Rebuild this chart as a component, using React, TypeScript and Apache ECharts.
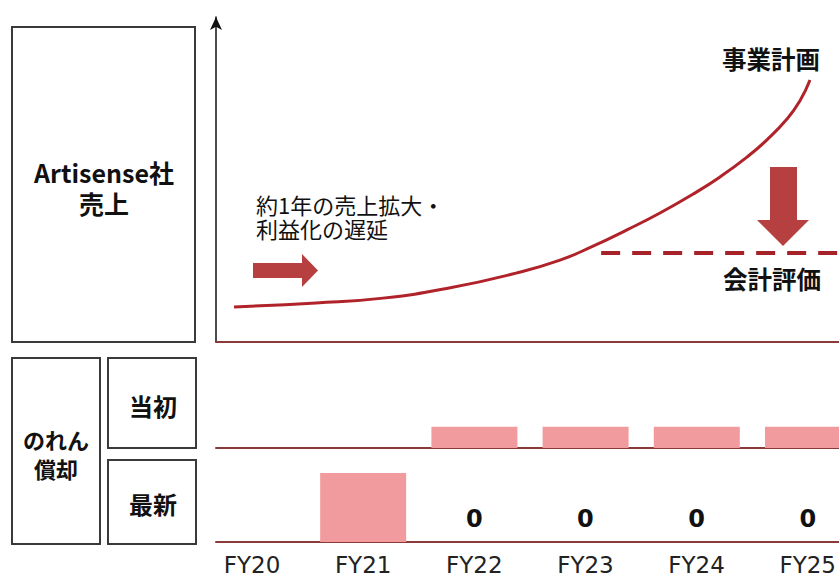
import React, { useEffect, useRef } from "react";
import * as echarts from "echarts";

const categories = ["FY20", "FY21", "FY22", "FY23", "FY24", "FY25"];
// Business-plan revenue curve (x = fiscal-year position, y = relative revenue)
const planCurveX = [-0.162, 0.576, 1.178, 1.772, 2.374, 2.77, 3.067, 3.372, 3.669, 3.966, 4.209, 4.451, 4.631, 4.811, 4.928, 5.018];
const planCurveY = [10.8, 12.0, 13.5, 16.6, 21.2, 25.2, 29.5, 34.5, 39.7, 45.5, 50.8, 56.9, 62.2, 68.6, 74.2, 80.6];
// Accounting valuation level (dashed)
const valuationX = [3.14, 5.4];
const valuationLevel = 27.4;
// Goodwill amortization
const initialAmort = [null, null, 30, 30, 30, 30];
const latestAmort = [null, 100, 0, 0, 0, 0];

const X_MIN = -0.324;
const X_MAX = 5.279;

export default function App() {
  const ref = useRef<HTMLDivElement>(null);
  useEffect(() => {
    if (!ref.current) return;
    const chart = echarts.init(ref.current, undefined, { renderer: "svg" });
    const jp = "'Noto Sans CJK JP', 'Noto Sans', sans-serif";
    const red = "#B0232A";
    const lineRed = "#8B3A3A";
    const pink = "#F29B9F";
    const arrow = "#B5403F";

    const xAxisBase = (gridIndex: number, showLabels: boolean) => ({
      type: "value",
      gridIndex,
      min: X_MIN,
      max: X_MAX,
      axisLine: { show: true, onZero: false, lineStyle: { color: lineRed, width: 2 } },
      axisTick: { show: false },
      splitLine: { show: false },
      axisLabel: showLabels
        ? {
            show: true,
            customValues: categories.map((_, i) => i),
            formatter: (v: number) => categories[Math.round(v)] ?? "",
            color: "#222",
            fontFamily: "'DejaVu Sans', Verdana, sans-serif",
            fontSize: 23,
            margin: 11,
          }
        : { show: false },
    });

    const boxes = [
      { x: 12, y: 27, w: 183, h: 315 },
      { x: 12, y: 358, w: 88, h: 186 },
      { x: 108, y: 358, w: 88, h: 90 },
      { x: 108, y: 460, w: 88, h: 84 },
    ];

    const label = (text: string, x: number, y: number, size: number, bold = true, align = "center") => ({
      type: "text",
      x,
      y,
      style: {
        text,
        fill: "#111",
        font: `${bold ? "bold " : ""}${size}px ${jp}`,
        align,
        verticalAlign: "middle",
        lineHeight: size,
      },
    });

    chart.setOption({
      animation: false,
      backgroundColor: "#fff",
      grid: [
        { left: 216, right: 0, top: 17, bottom: 234 },
        { left: 216, right: 0, top: 377, bottom: 128 },
        { left: 216, right: 0, top: 473, bottom: 32 },
      ],
      xAxis: [xAxisBase(0, false), xAxisBase(1, false), xAxisBase(2, true)],
      yAxis: [
        {
          type: "value",
          gridIndex: 0,
          min: 0,
          max: 100,
          axisLine: {
            show: true,
            onZero: false,
            symbol: ["none", "arrow"],
            symbolSize: [9, 13],
            lineStyle: { color: "#111", width: 1.5 },
          },
          axisTick: { show: false },
          axisLabel: { show: false },
          splitLine: { show: false },
        },
        { type: "value", gridIndex: 1, min: 0, max: 100, show: false },
        { type: "value", gridIndex: 2, min: 0, max: 100, show: false },
      ],
      series: [
        {
          type: "line",
          xAxisIndex: 0,
          yAxisIndex: 0,
          smooth: 0.5,
          symbol: "none",
          lineStyle: { color: red, width: 3 },
          data: planCurveX.map((x, i) => [x, planCurveY[i]]),
        },
        {
          type: "line",
          xAxisIndex: 0,
          yAxisIndex: 0,
          symbol: "none",
          lineStyle: { color: "#A52228", width: 4, type: [19, 12] },
          data: valuationX.map((x) => [x, valuationLevel]),
        },
        {
          type: "bar",
          xAxisIndex: 1,
          yAxisIndex: 1,
          barWidth: 86,
          itemStyle: { color: pink },
          data: initialAmort.map((v, i) => [i, v == null ? "-" : v]),
        },
        {
          type: "bar",
          xAxisIndex: 2,
          yAxisIndex: 2,
          barWidth: 86,
          itemStyle: { color: pink },
          label: {
            show: true,
            position: "top",
            distance: 11,
            formatter: (p: any) => (p.value[1] === 0 ? "0" : ""),
            color: "#111",
            fontWeight: "bold",
            fontSize: 24,
            fontFamily: "'DejaVu Sans', Verdana, sans-serif",
          },
          data: latestAmort.map((v, i) => [i, v == null ? "-" : v]),
        },
      ],
      graphic: [
        ...boxes.map((b) => ({
          type: "rect",
          shape: { x: b.x, y: b.y, width: b.w, height: b.h },
          style: { fill: "none", stroke: "#3a3a3a", lineWidth: 2 },
        })),
        label("Artisense社", 104, 172, 25),
        label("売上", 104, 203, 25),
        label("のれん", 56, 439, 22),
        label("償却", 56, 468, 22),
        label("当初", 153, 405, 24),
        label("最新", 153, 503, 24),
        label("約1年の売上拡大・", 256, 204, 22, false, "left"),
        label("利益化の遅延", 256, 228, 22, false, "left"),
        label("事業計画", 771, 58, 24.5),
        label("会計評価", 772, 278, 24.5),
        {
          type: "polygon",
          shape: {
            points: [
              [253, 263], [302, 263], [302, 254], [318, 270.5], [302, 287], [302, 278], [253, 278],
            ],
          },
          style: { fill: arrow },
        },
        {
          type: "polygon",
          shape: {
            points: [
              [770, 167], [797, 167], [797, 220], [809, 220], [783, 246], [757, 220], [770, 220],
            ],
          },
          style: { fill: arrow },
        },
      ],
    });
    return () => chart.dispose();
  }, []);
  return (
    <div
      ref={ref}
      style={{ position: "fixed", left: 0, top: 0, width: 839, height: 576 }}
    />
  );
}
